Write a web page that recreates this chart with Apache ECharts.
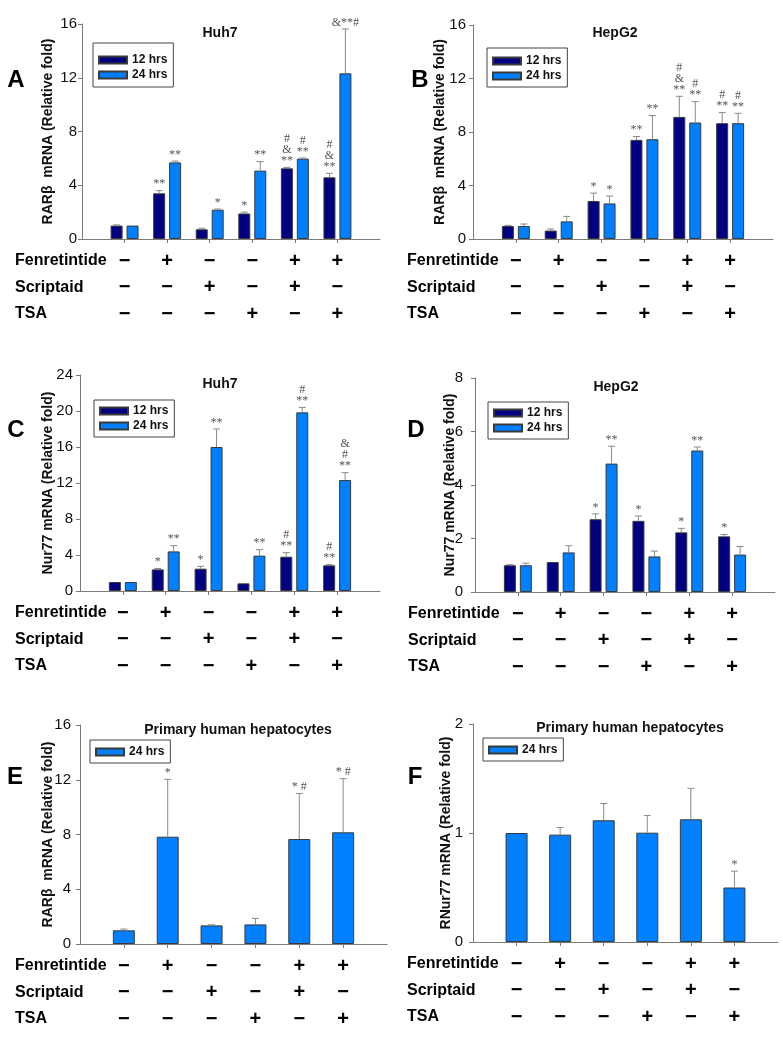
<!DOCTYPE html>
<html>
<head>
<meta charset="utf-8">
<title>RARβ and Nur77 mRNA</title>
<script src="https://cdn.jsdelivr.net/npm/echarts@6/dist/echarts.min.js"></script>
<style>
  html, body { margin: 0; padding: 0; background: #fff; }
  #chart { width: 783px; height: 1050px; }
</style>
</head>
<body>
<div id="chart"></div>
<script>
// treatment table under each group
const fenretinide = ['−', '+', '−', '−', '+', '+']
const scriptaid = ['−', '−', '+', '−', '+', '−']
const tsa = ['−', '−', '−', '+', '−', '+']
const rowNames = ['Fenretintide', 'Scriptaid', 'TSA']
const seriesNames = ['12 hrs', '24 hrs']

// A: RARβ in Huh7
const a12 = [1.0, 3.4, 0.72, 1.9, 5.26, 4.59]
const a12Err = [0.05, 0.2, 0.08, 0.1, 0.07, 0.3]
const a12Notes = ['', '**', '', '*', '#\n&\n**', '#\n&\n**']
const a24 = [1.0, 5.7, 2.18, 5.09, 5.98, 12.33]
const a24Err = [0.03, 0.1, 0.05, 0.67, 0.05, 3.3]
const a24Notes = ['', '**', '*', '**', '#\n**', '&**#']

// B: RARβ in HepG2
const b12 = [0.97, 0.63, 2.84, 7.41, 9.13, 8.66]
const b12Err = [0.05, 0.12, 0.59, 0.25, 1.54, 0.79]
const b12Notes = ['', '', '*', '**', '#\n&\n**', '#\n**']
const b24 = [0.97, 1.32, 2.66, 7.46, 8.71, 8.66]
const b24Err = [0.15, 0.37, 0.55, 1.77, 1.56, 0.74]
const b24Notes = ['', '', '*', '**', '#\n**', '#\n**']

// C: Nur77 in Huh7
const c12 = [1.0, 2.4, 2.48, 0.85, 3.81, 2.85]
const c12Err = [0.03, 0.1, 0.26, 0, 0.45, 0.08]
const c12Notes = ['', '*', '*', '', '#\n**', '#\n**']
const c24 = [1.0, 4.4, 16.0, 3.93, 19.85, 12.33]
const c24Err = [0.02, 0.64, 2.0, 0.66, 0.55, 0.82]
const c24Notes = ['', '**', '**', '**', '#\n**', '&\n#\n**']

// D: Nur77 in HepG2
const d12 = [1.0, 1.12, 2.72, 2.66, 2.23, 2.08]
const d12Err = [0.02, 0, 0.2, 0.18, 0.15, 0.07]
const d12Notes = ['', '', '*', '*', '*', '*']
const d24 = [1.0, 1.48, 4.8, 1.33, 5.29, 1.4]
const d24Err = [0.08, 0.25, 0.65, 0.2, 0.13, 0.3]
const d24Notes = ['', '', '**', '', '**', '']

// E: RARβ in primary human hepatocytes
const e24 = [1.0, 7.84, 1.36, 1.43, 7.67, 8.16]
const e24Err = [0.09, 4.19, 0.04, 0.44, 3.33, 3.92]
const e24Notes = ['', '*', '', '', '* #', '* #']

// F: Nur77 in primary human hepatocytes
const f24 = [1.0, 0.985, 1.117, 1.003, 1.126, 0.5]
const f24Err = [0, 0.065, 0.153, 0.157, 0.284, 0.15]
const f24Notes = ['', '', '', '', '', '*']

const rarName = 'RARβ  mRNA (Relative fold)'
const nurName = 'Nur77 mRNA (Relative fold)'

const panels = [
  { letter: 'A', title: 'Huh7', yMax: 16, yStep: 4, yName: rarName,
    left: 82, top: 24, width: 298, height: 215, nameGap: 27, labelMargin: 5,
    letterPos: [16, 80], titlePos: [220, 33], legendPos: [93, 43], legendPad: [10, 6, 5, 5], rowX: 15,
    names: seriesNames, means: [a12, a24], errs: [a12Err, a24Err], notes: [a12Notes, a24Notes] },
  { letter: 'B', title: 'HepG2', yMax: 16, yStep: 4, yName: rarName,
    left: 473, top: 25, width: 300, height: 214, nameGap: 26, labelMargin: 7,
    letterPos: [420, 80], titlePos: [615, 33], legendPos: [487, 48], legendPad: [6, 6, 4, 5], rowX: 407,
    names: seriesNames, means: [b12, b24], errs: [b12Err, b24Err], notes: [b12Notes, b24Notes] },
  { letter: 'C', title: 'Huh7', yMax: 24, yStep: 4, yName: nurName,
    left: 80, top: 375, width: 300, height: 216, nameGap: 25, labelMargin: 7,
    letterPos: [16, 430], titlePos: [220, 384], legendPos: [94, 400], legendPad: [4, 6, 4, 5], rowX: 15,
    names: seriesNames, means: [c12, c24], errs: [c12Err, c24Err], notes: [c12Notes, c24Notes] },
  { letter: 'D', title: 'HepG2', yMax: 8, yStep: 2, yName: nurName,
    left: 475, top: 378, width: 300, height: 214, nameGap: 18, labelMargin: 12,
    letterPos: [416, 430], titlePos: [616, 387], legendPos: [488, 402], legendPad: [4, 6, 4, 5], rowX: 408,
    names: seriesNames, means: [d12, d24], errs: [d12Err, d24Err], notes: [d12Notes, d24Notes] },
  { letter: 'E', title: 'Primary human hepatocytes', yMax: 16, yStep: 4, yName: rarName,
    left: 80, top: 725, width: 307, height: 219, nameGap: 25, labelMargin: 9,
    letterPos: [15, 777], titlePos: [238, 730], legendPos: [90, 740], legendPad: [5, 6, 4, 5], rowX: 15,
    names: ['24 hrs'], means: [e24], errs: [e24Err], notes: [e24Notes] },
  { letter: 'F', title: 'Primary human hepatocytes', yMax: 2, yStep: 1, yName: 'R' + nurName,
    left: 473, top: 724, width: 305, height: 218, nameGap: 20, labelMargin: 10,
    letterPos: [415, 777], titlePos: [630, 728], legendPos: [483, 738], legendPad: [5, 6, 4, 5], rowX: 407,
    names: ['24 hrs'], means: [f24], errs: [f24Err], notes: [f24Notes] }
]

const colors = { '12 hrs': '#000080', '24 hrs': '#0080ff' }
const sans = '"Liberation Sans", Arial, sans-serif'
const rowOffsets = [22, 48.5, 75]

// category labels are the stacked +/- column of each group, padded at both ends
const categories = [' '].concat(fenretinide.map((f, i) => f + '\n' + scriptaid[i] + '\n' + tsa[i]), ['  '])

function errorBar(notes, shift) {
  return function (params, api) {
    const base = api.coord([api.value(0), api.value(1)])
    const top = api.coord([api.value(0), api.value(2)])
    const x = base[0] + shift
    const children = []
    if (top[1] < base[1] - 0.5) {
      const stroke = { stroke: '#8a8a8a', lineWidth: 1 }
      children.push({ type: 'line', shape: { x1: x, y1: base[1], x2: x, y2: top[1] }, style: stroke })
      children.push({ type: 'line', shape: { x1: x - 3.5, y1: top[1], x2: x + 3.5, y2: top[1] }, style: stroke })
    }
    const note = notes[params.dataIndex]
    if (note) {
      children.push({
        type: 'text',
        x: x,
        y: top[1] - 1,
        style: {
          text: note,
          align: 'center',
          verticalAlign: 'bottom',
          font: '12px "Liberation Serif", serif',
          lineHeight: 11,
          fill: '#555'
        }
      })
    }
    return { type: 'group', children: children }
  }
}

const option = {
  animation: false,
  backgroundColor: '#fff',
  textStyle: { fontFamily: sans },
  grid: [],
  xAxis: [],
  yAxis: [],
  legend: [],
  series: [],
  graphic: []
}

panels.forEach((p, k) => {
  const axisY = p.top + p.height
  const twin = p.names.length > 1
  const barWidth = twin ? 12 : 22
  const gap = 0.33

  option.grid.push({ left: p.left, top: p.top, width: p.width, height: p.height, outerBoundsMode: 'none' })

  option.xAxis.push({
    gridIndex: k,
    type: 'category',
    boundaryGap: false,
    data: categories,
    axisLine: { lineStyle: { color: '#7a7a7a', width: 1 } },
    axisTick: { length: 4, lineStyle: { color: '#7a7a7a' }, interval: (i) => i > 0 && i < categories.length - 1 },
    axisLabel: {
      interval: 0,
      margin: 9,
      fontSize: 20,
      fontWeight: 'bold',
      lineHeight: 26.5,
      color: '#000'
    },
    splitLine: { show: false }
  })

  option.yAxis.push({
    gridIndex: k,
    type: 'value',
    min: 0,
    max: p.yMax,
    interval: p.yStep,
    name: p.yName,
    nameLocation: 'middle',
    nameRotate: 90,
    nameGap: p.nameGap,
    nameMoveOverlap: false,
    nameTextStyle: { fontSize: 14, fontWeight: 'bold', color: '#111' },
    axisLine: { show: true, lineStyle: { color: '#7a7a7a', width: 1 } },
    axisTick: { show: true, length: 4, lineStyle: { color: '#7a7a7a' } },
    axisLabel: { fontSize: 15, color: '#111', margin: p.labelMargin },
    splitLine: { show: false }
  })

  option.legend.push({
    left: p.legendPos[0],
    top: p.legendPos[1],
    orient: 'vertical',
    selectedMode: false,
    data: p.names,
    icon: 'rect',
    itemWidth: 28,
    itemHeight: 7,
    itemGap: 1,
    padding: p.legendPad,
    borderColor: '#444',
    borderWidth: 1,
    borderRadius: 0,
    textStyle: { fontSize: 12, fontWeight: 'bold', color: '#111', lineHeight: 14 }
  })

  p.names.forEach((name, s) => {
    const shift = twin ? (s === 0 ? -1 : 1) * (barWidth + barWidth * gap) / 2 : 0
    option.series.push({
      name: name,
      type: 'bar',
      xAxisIndex: k,
      yAxisIndex: k,
      barWidth: barWidth,
      barGap: gap * 100 + '%',
      itemStyle: { color: colors[name], borderColor: '#3a3a3a', borderWidth: 1 },
      data: p.means[s].map((v, i) => [i + 1, v])
    })
    option.series.push({
      name: p.letter + ' ' + name + ' error',
      type: 'custom',
      xAxisIndex: k,
      yAxisIndex: k,
      z: 5,
      renderItem: errorBar(p.notes[s], shift),
      data: p.means[s].map((v, i) => [i + 1, v, v + p.errs[s][i]])
    })
  })

  option.graphic.push({
    type: 'text',
    x: p.letterPos[0],
    y: p.letterPos[1],
    style: { text: p.letter, font: 'bold 24px ' + sans, fill: '#000', align: 'center', verticalAlign: 'middle' }
  })
  option.graphic.push({
    type: 'text',
    x: p.titlePos[0],
    y: p.titlePos[1],
    style: { text: p.title, font: 'bold 14px ' + sans, fill: '#111', align: 'center', verticalAlign: 'middle' }
  })
  rowNames.forEach((row, r) => {
    option.graphic.push({
      type: 'text',
      x: p.rowX,
      y: axisY + rowOffsets[r],
      style: { text: row, font: 'bold 16px ' + sans, fill: '#000', align: 'left', verticalAlign: 'middle' }
    })
  })
})

const chart = echarts.init(document.getElementById('chart'), null, { renderer: 'canvas' })
chart.setOption(option)
window.addEventListener('resize', () => chart.resize())
</script>
</body>
</html>
